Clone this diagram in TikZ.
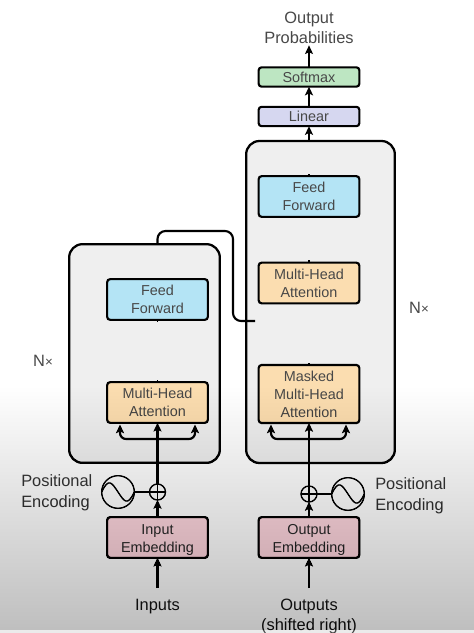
\documentclass[tikz,border=0pt]{standalone}
\usepackage{fontspec}
\setmainfont{Liberation Sans}
\usetikzlibrary{arrows.meta,calc}
\definecolor{txt}{HTML}{484848}
\definecolor{cff}{HTML}{B4E4F5}
\definecolor{cmha}{HTML}{FBDDB0}
\definecolor{cemb}{HTML}{FFDCE3}
\definecolor{csoft}{HTML}{BDE6C2}
\definecolor{clin}{HTML}{D6D7F0}
\definecolor{cblock}{HTML}{EFEFEF}
\tikzset{
  blk/.style={draw=black,line width=1.6pt,rounded corners=2.2pt,minimum width=75.5pt,inner sep=0pt,outer sep=0pt,
    text=txt,align=center,font=\fontsize{10.8pt}{13.5pt}\selectfont},
  tall/.style={blk,minimum height=30.5pt},
  slim/.style={blk,minimum height=14.5pt},
  container/.style={draw=black,line width=1.7pt,fill=cblock,rounded corners=10pt,inner sep=0pt,outer sep=0pt},
  lbl/.style={text=txt,font=\fontsize{12.3pt}{15.4pt}\selectfont,inner sep=0pt,align=center},
  lbll/.style={lbl,align=left,anchor=west},
  arr/.style={draw=black,line width=1.6pt,-{Stealth[length=6.5pt,width=6pt,inset=1.4pt]}},
  wire/.style={draw=black,line width=1.6pt},
  stub/.style={draw=black,line width=1pt},
  plusc/.style={circle,draw=black,line width=1pt,minimum size=12pt,inner sep=0pt,outer sep=0pt},
  sinec/.style={circle,draw=black,line width=1pt,minimum size=24.5pt,inner sep=0pt,outer sep=0pt},
}
\begin{document}
\begin{tikzpicture}[x=0.75pt,y=-0.75pt]
\useasboundingbox (0,0) rectangle (474,633);
\fill[white] (0,0) rectangle (474,633);
% containers
\node[container,minimum width=113pt,minimum height=164pt] (enc) at (144.5,353.5) {};
\node[container,minimum width=111.5pt,minimum height=241.5pt] (dec) at (320.5,302) {};
% decoder boxes
\node[slim,fill=csoft] (soft) at (309,77) {Softmax};
\node[slim,fill=clin] (lin) at (309,116.5) {Linear};
\node[tall,fill=cff] (ff2) at (309,196.5) {Feed\\Forward};
\node[tall,fill=cmha] (mha2) at (309,283) {Multi-Head\\Attention};
\node[blk,fill=cmha,minimum height=43.5pt] (mask) at (309,394) {Masked\\Multi-Head\\Attention};
\node[tall,fill=cemb] (oemb) at (309,537.5) {\rule{0pt}{11pt}Output\\Embedding};
% encoder boxes
\node[tall,fill=cff] (ff1) at (157.5,299.5) {Feed\\Forward};
\node[tall,fill=cmha] (mha1) at (157.5,402.5) {Multi-Head\\Attention};
\node[tall,fill=cemb] (iemb) at (157.5,537.5) {\rule{0pt}{11pt}Input\\Embedding};
% positional encoding
\node[plusc] (plus1) at (157.5,492) {};
\node[sinec] (sine1) at (118,492) {};
\node[plusc] (plus2) at (309,494) {};
\node[sinec] (sine2) at (348,494) {};
\foreach \p in {plus1,plus2}{
  \draw[line width=1pt] (\p.north) -- (\p.south) (\p.west) -- (\p.east);
}
\foreach \s in {sine1,sine2}{
  \draw[line width=1pt] (\s.west) .. controls +(7,-15) and +(-6,-9) .. (\s.center) .. controls +(6,9) and +(-7,15) .. (\s.east);
}
\draw[wire] (sine1) -- (plus1);
\draw[wire] (plus2) -- (sine2);
% labels
\node[lbl] (outp) at (309,28) {Output\\Probabilities};
\node[lbl] (inp) at (157.5,607) {Inputs};
\node[lbl,anchor=north] (outs) at (309,598.5) {Outputs\\(shifted right)};
\node[lbll] (pel) at (21,492.5) {Positional\\Encoding};
\node[lbll] (per) at (375,495.5) {Positional\\Encoding};
\node[lbl] (nl) at (43,361) {N{\fontsize{10pt}{12pt}\selectfont×}};
\node[lbl] (nr) at (419,308) {N{\fontsize{10pt}{12pt}\selectfont×}};
% named free ends
\coordinate (in1) at (157.5,588);
\coordinate (in2) at (309,588);
\coordinate (sp1) at (157.5,439);
\coordinate (sp2) at (309,439);
\coordinate (bl1) at (120,424.5);
\coordinate (br1) at (195,424.5);
\coordinate (bl2) at (271,424.5);
\coordinate (br2) at (346,424.5);
\coordinate (link) at (255,321);
\coordinate (cross) at (233,231);
\coordinate (up) at (157.5,231);
% connectors
\draw[arr] (in1) -- (iemb.south);
\draw[arr] (in2) -- (oemb.south);
\draw[arr] (iemb.north) -- (plus1.south);
\draw[arr] (oemb.north) -- (plus2.south);
\draw[arr] (plus1.north) -- (mha1.south);
\draw[arr] (plus2.north) -- (mask.south);
\draw[arr,rounded corners=4.5pt] (sp1) -| (bl1);
\draw[arr,rounded corners=4.5pt] (sp1) -| (br1);
\draw[arr,rounded corners=4.5pt] (sp2) -| (bl2);
\draw[arr,rounded corners=4.5pt] (sp2) -| (br2);
\draw[arr] (dec.north -| lin) -- (lin.south);
\draw[arr] (lin.north) -- (soft.south);
\draw[arr] (soft.north) -- ($(outp.south)+(0,1)$);
\draw[wire,rounded corners=6pt] (enc.north -| ff1) -- (up) -- (cross) |- (link);
\draw[stub] (ff2.north) -- ++(0,-2.5);
\draw[stub] (mha2.north) -- ++(0,-2.5);
\draw[stub] (mask.north) -- ++(0,-2.5);
\draw[stub] (mha1.north) -- ++(0,-2.5);
\draw[stub] (ff1.south) -- ++(0,2);
% darkening towards the bottom
\foreach \i in {0,...,63}{
  \fill[black,opacity=0.004] (0,388+3.8*\i) rectangle (474,630);
}
\fill[black,opacity=0.08] (0,630) rectangle (474,633);
\end{tikzpicture}
\end{document}
